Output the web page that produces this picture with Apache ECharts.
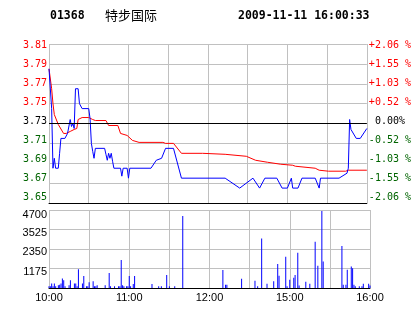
<!DOCTYPE html>
<html><head><meta charset="utf-8">
<script src="https://cdn.jsdelivr.net/npm/echarts@6/dist/echarts.min.js"></script>
<style>html,body{margin:0;padding:0;background:#fff}#c{width:414px;height:314px}</style>
</head><body><div id="c"></div>
<script>
const stockCode = '01368';
const stockName = '特步国际';
const stamp = '2009-11-11 16:00:33';
const prevClose = 3.73;
const priceTicks = ['3.65','3.67','3.69','3.71','3.73','3.75','3.77','3.79','3.81'];
const pctTicks = ['-2.06 %','-1.55 %','-1.03 %','-0.52 %',' 0.00%','+0.52 %','+1.03 %','+1.55 %','+2.06 %'];
const volTicks = ['', '1175', '2350', '3525', '4700'];
const timeTicks = ['10:00','','11:00','','12:00','','15:00','','16:00'];

const priceTimes = ['10:00','10:01','10:02','10:03','10:04','10:05','10:07','10:08','10:09','10:12','10:14','10:16','10:17','10:18','10:19','10:20','10:22','10:23','10:25','10:30','10:31','10:32','10:33','10:34','10:35','10:42','10:43','10:44','10:45','10:46','10:47','10:48','10:49','10:54','10:55','10:56','10:59','11:00','11:01','11:17','11:21','11:25','11:28','11:34','11:40','12:13','12:24','14:34','14:39','14:43','14:52','14:56','15:00','15:03','15:04','15:08','15:11','15:21','15:24','15:25','15:39','15:45','15:46','15:47','15:48','15:52','15:55','16:00'];
const priceValues = [3.785,3.785,3.745,3.685,3.695,3.685,3.685,3.700,3.715,3.715,3.720,3.734,3.727,3.730,3.725,3.765,3.765,3.750,3.745,3.745,3.735,3.710,3.702,3.695,3.705,3.705,3.699,3.693,3.700,3.695,3.700,3.692,3.685,3.685,3.677,3.685,3.685,3.675,3.685,3.685,3.693,3.695,3.705,3.705,3.675,3.675,3.665,3.675,3.665,3.675,3.675,3.665,3.665,3.675,3.665,3.665,3.675,3.675,3.665,3.675,3.675,3.680,3.685,3.734,3.724,3.715,3.715,3.725];

const avgTimes = ['10:00','10:01','10:02','10:03','10:04','10:07','10:11','10:13','10:16','10:19','10:21','10:22','10:25','10:30','10:33','10:35','10:43','10:45','10:52','10:54','10:59','11:03','11:08','11:26','11:28','11:34','11:40','11:56','11:57','12:13','12:29','14:36','14:45','14:55','15:04','15:06','15:21','15:24','15:31','15:44','15:46','16:00'];
const avgValues = [3.785,3.785,3.765,3.750,3.739,3.729,3.720,3.720,3.722,3.724,3.725,3.734,3.736,3.736,3.734,3.733,3.733,3.728,3.728,3.720,3.718,3.713,3.711,3.711,3.710,3.710,3.700,3.700,3.699,3.699,3.697,3.693,3.691,3.689,3.688,3.687,3.685,3.683,3.682,3.682,3.683,3.683];

const volTimes = ['10:00','10:01','10:02','10:03','10:04','10:05','10:07','10:08','10:09','10:10','10:11','10:12','10:15','10:16','10:19','10:20','10:21','10:22','10:25','10:26','10:28','10:29','10:30','10:33','10:34','10:35','10:36','10:42','10:45','10:46','10:49','10:52','10:53','10:54','10:55','10:56','10:58','10:59','11:00','11:01','11:03','11:04','11:17','11:22','11:24','11:28','11:30','11:34','11:40','12:10','12:12','12:13','12:24','14:34','14:36','14:39','14:43','14:48','14:51','14:52','14:57','14:58','15:00','15:03','15:04','15:06','15:07','15:12','15:15','15:19','15:21','15:24','15:25','15:39','15:40','15:42','15:43','15:46','15:47','15:48','15:49','15:52','15:54','15:55','15:59','16:00'];
const volValues = [100,100,265,100,265,100,160,200,265,570,460,100,160,470,265,265,100,1130,265,720,100,100,340,410,100,100,160,160,900,100,100,100,100,1690,160,100,100,100,720,100,240,720,240,100,100,780,100,100,4340,1090,200,200,550,430,100,2980,250,400,1440,740,1890,100,500,620,780,2130,150,380,260,2790,1340,4640,1590,2530,200,200,1100,1290,1190,200,100,100,100,260,260,150];

function toMin(t){
  const p = t.split(':').map(Number);
  const v = p[0]*60 + p[1];
  return v <= 750 ? v - 600 : v - 870 + 150;
}

const MONO = '"DejaVu Sans Mono", monospace';
const SANS = '"Liberation Sans", Arial, sans-serif';
const RED = '#ff0000', GREEN = '#006400', BLUE = '#0000ff', GRID = '#c0c0c0';

const leftRich = {}, rightRich = {};
for (let k = 0; k < 9; k++) {
  const kt = 8 - k;
  const d = 1 - 0.82 * kt;
  const pad = d > 0 ? [2*d, 0, 0, 0] : [0, 0, -2*d, 0];
  const col = k > 4 ? RED : (k === 4 ? '#000000' : GREEN);
  leftRich['t'+k] = {color: col, padding: pad, fontFamily: MONO, fontSize: 10};
  rightRich['t'+k] = {color: col, padding: pad, fontFamily: MONO, fontSize: 10};
}
const volRich = {
  a: {color:'#000', padding:[6,0,0,0], fontFamily: SANS, fontSize: 11},
  top: {color:'#000', padding:[10,0,0,0], fontFamily: SANS, fontSize: 11}
};

const tickIdx = v => Math.round((v - 3.65) / 0.02);

const chart = echarts.init(document.getElementById('c'), null, {renderer:'canvas'});
chart.setOption({
  animation: false,
  backgroundColor: '#ffffff',
  graphic: [
    {type:'text', left:50, top:10, style:{text: stockCode, font:'bold 11.5px ' + MONO, fill:'#000'}},
    {type:'text', left:105, top:9, style:{text: stockName, font:'13px "Noto Sans CJK SC"', fill:'#000'}},
    {type:'text', left:238, top:10, style:{text: stamp, font:'bold 11.5px ' + MONO, fill:'#000'}}
  ],
  grid: [
    {left:49, right:44, top:44, height:159},
    {left:49, right:44, top:210, height:78}
  ],
  xAxis: [
    {type:'value', gridIndex:0, min:0, max:240, interval:30,
     axisLine:{show:true, onZero:false, lineStyle:{color:'#000', width:1}},
     axisTick:{show:false}, axisLabel:{show:false},
     splitLine:{show:true, lineStyle:{color:GRID, width:1}}},
    {type:'value', gridIndex:1, min:0, max:240, interval:30,
     axisLine:{show:true, onZero:false, lineStyle:{color:'#000', width:1}},
     axisTick:{show:false},
     axisLabel:{show:true, margin:4, fontFamily:SANS, fontSize:11, color:'#000',
       formatter: v => timeTicks[Math.round(v/30)] || ''},
     splitLine:{show:true, lineStyle:{color:GRID, width:1}}}
  ],
  yAxis: [
    {type:'value', gridIndex:0, position:'left', min:3.65, max:3.81, interval:0.02,
     axisLine:{show:false}, axisTick:{show:false},
     splitLine:{show:true, lineStyle:{color:GRID, width:1}},
     axisLabel:{margin:2, rich:leftRich,
       formatter: v => { const i = tickIdx(v); return '{t'+i+'|'+priceTicks[i]+'}'; }}},
    {type:'value', gridIndex:0, position:'right', min:3.65, max:3.81, interval:0.02,
     axisLine:{show:false}, axisTick:{show:false}, splitLine:{show:false},
     axisLabel:{margin:2, rich:rightRich,
       formatter: v => { const i = tickIdx(v); return '{t'+i+'|'+pctTicks[i]+'}'; }}},
    {type:'value', gridIndex:1, position:'left', min:0, max:4700, interval:1175,
     axisLine:{show:false}, axisTick:{show:false},
     splitLine:{show:true, lineStyle:{color:GRID, width:1}},
     axisLabel:{margin:2, rich:volRich,
       formatter: v => { const i = Math.round(v/1175); if (!volTicks[i]) return ''; return (i===4?'{top|':'{a|') + volTicks[i] + '}'; }}}
  ],
  series: [
    {type:'line', name:'avg', xAxisIndex:0, yAxisIndex:0, showSymbol:false, symbol:'none',
     lineStyle:{color:RED, width:1}, itemStyle:{color:RED},
     data: avgTimes.map((t,i)=>[toMin(t), avgValues[i]]),
     markLine:{silent:true, symbol:'none', label:{show:false},
       lineStyle:{color:'#000', type:'solid', width:1},
       data:[{yAxis: prevClose}]}},
    {type:'line', name:'price', xAxisIndex:0, yAxisIndex:0, showSymbol:false, symbol:'none',
     lineStyle:{color:BLUE, width:1}, itemStyle:{color:BLUE},
     data: priceTimes.map((t,i)=>[toMin(t), priceValues[i]])},
    {type:'bar', name:'vol', xAxisIndex:1, yAxisIndex:2, barWidth:1,
     itemStyle:{color:BLUE},
     data: volTimes.map((t,i)=>[toMin(t), volValues[i]])}
  ]
});
</script></body></html>
